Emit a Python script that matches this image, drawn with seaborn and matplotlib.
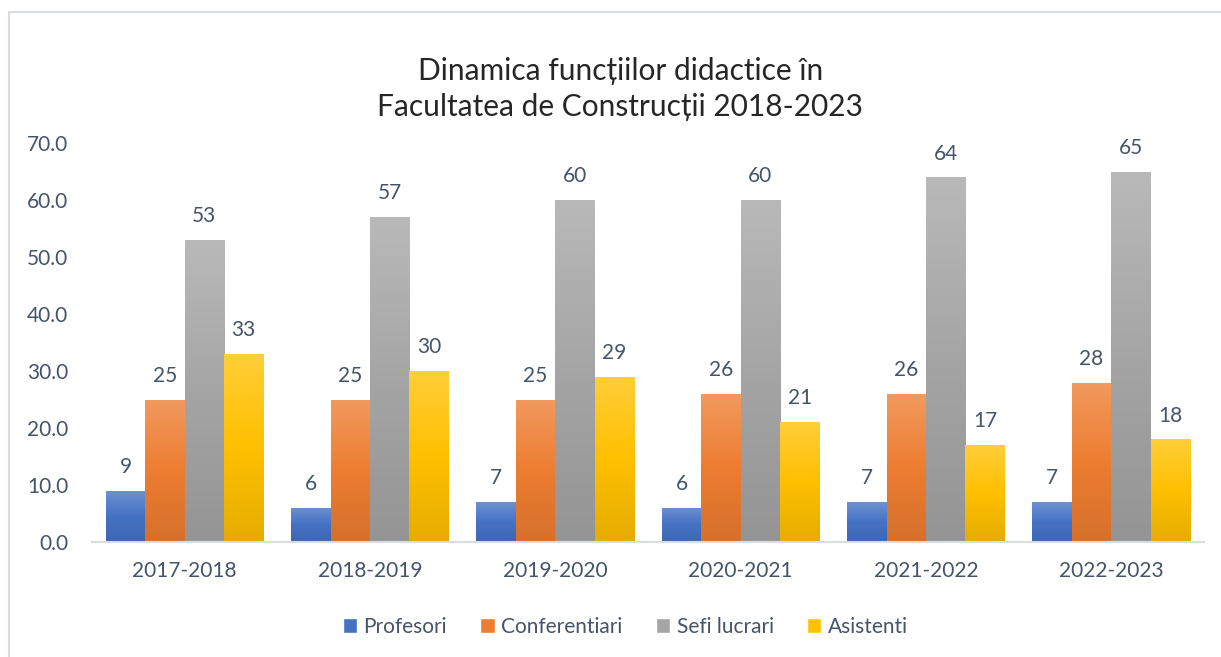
import numpy as np
import pandas as pd
import seaborn as sns
import matplotlib.pyplot as plt
from matplotlib.colors import LinearSegmentedColormap, to_rgb
from matplotlib.patches import Rectangle

years = ["2017-2018", "2018-2019", "2019-2020", "2020-2021", "2021-2022", "2022-2023"]
profesori = [9, 6, 7, 6, 7, 7]
conferentiari = [25, 25, 25, 26, 26, 28]
sefi_lucrari = [53, 57, 60, 60, 64, 65]
asistenti = [33, 30, 29, 21, 17, 18]

series = ["Profesori", "Conferentiari", "Sefi lucrari", "Asistenti"]
colors = ["#4472C4", "#ED7D31", "#A5A5A5", "#FFC000"]

rows = []
for name, vals in zip(series, [profesori, conferentiari, sefi_lucrari, asistenti]):
    for y, v in zip(years, vals):
        rows.append({"an": y, "serie": name, "valoare": v})
df = pd.DataFrame(rows)

sns.set_style("white")
plt.rcParams["font.family"] = ["Lato", "DejaVu Sans"]
txt_col = "#44546A"

fig = plt.figure(figsize=(12.21, 6.57), dpi=100)
ax = fig.add_axes([0.0753, 0.175, 0.9107, 0.607])

sns.barplot(data=df, x="an", y="valoare", hue="serie", palette=colors,
            width=0.85, gap=0, ax=ax, legend=True, saturation=1)


def shade(c, f):
    r = np.array(to_rgb(c))
    if f > 0:
        return tuple(r + (1 - r) * f)
    return tuple(r * (1 + f))


# gradient fill, lighter at top
for i, cont in enumerate(ax.containers):
    cmap = LinearSegmentedColormap.from_list("g", [shade(colors[i], -0.1), colors[i], shade(colors[i], 0.22)])
    for p in cont.patches:
        x0, y0 = p.get_x(), p.get_y()
        w, h = p.get_width(), p.get_height()
        grad = np.linspace(0, 1, 100).reshape(-1, 1)
        im = ax.imshow(grad, cmap=cmap, origin="lower", aspect="auto",
                       extent=(x0, x0 + w, y0, y0 + h), zorder=p.get_zorder() + 0.1)
        im.set_clip_path(p)
    ax.bar_label(cont, fmt="%d", padding=10, color=txt_col, fontsize=15)

ax.set_xlim(-0.5, 5.5)
ax.set_ylim(0, 70)
ax.set_yticks(range(0, 71, 10))
ax.set_yticklabels([f"{t:.1f}" for t in range(0, 71, 10)])
ax.tick_params(axis="both", colors=txt_col, labelsize=15, length=0)
ax.tick_params(axis="x", pad=14)
ax.tick_params(axis="y", pad=17)
ax.set_xlabel("")
ax.set_ylabel("")
for s in ["top", "right", "left"]:
    ax.spines[s].set_visible(False)
ax.spines["bottom"].set_color("#D9DDE3")
ax.spines["bottom"].set_linewidth(1.5)

handles, labels = ax.get_legend_handles_labels()
ax.get_legend().remove()
fig.legend(handles, labels, loc="center", bbox_to_anchor=(0.512, 0.046), ncol=4,
           frameon=False, fontsize=15, handlelength=0.7, handleheight=0.7,
           handletextpad=0.3, columnspacing=1.6, labelcolor=txt_col)

fig.text(0.508, 0.865, "Dinamica funcțiilor didactice în\nFacultatea de Construcții 2018-2023",
         ha="center", va="center", fontsize=21.5, color="#262626", linespacing=1.35)

fig.patches.append(Rectangle((0.0074, -0.02), 1.05, 1.0017, transform=fig.transFigure,
                             fill=False, edgecolor="#D9DDE3", linewidth=1.5))

fig.savefig("out.png", dpi=100)
